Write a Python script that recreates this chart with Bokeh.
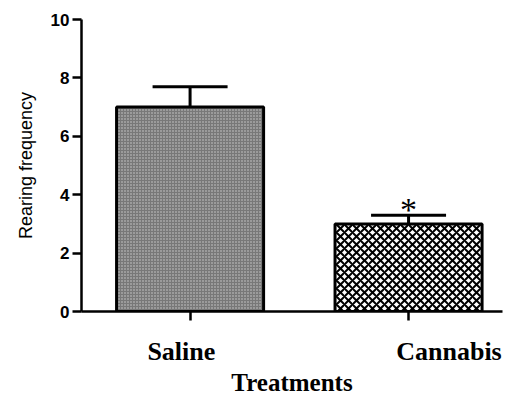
from bokeh.plotting import figure
from bokeh.models import (ColumnDataSource, FixedTicker, Whisker, TeeHead, LinearAxis)
from bokeh.core.properties import value
from bokeh.embed import file_html
from bokeh.resources import INLINE

# ---- data ----
categories = ["Saline", "Cannabis"]
positions = [1, 2]
means = [7.0, 3.0]
sems = [0.7, 0.3]
significance = ["", "*"]
y_ticks = [0, 2, 4, 6, 8, 10]
x_title = "Treatments"
y_title = "Rearing frequency"

upper = [m + s for m, s in zip(means, sems)]
src = ColumnDataSource(dict(x=positions, top=means, upper=upper, cat=categories,
                            sig=significance))

p = figure(width=512, height=398, x_range=(0.503, 2.43), y_range=(0, 10),
           output_backend="svg", toolbar_location=None,
           min_border_left=81, min_border_right=10, min_border_top=19, min_border_bottom=0)
p.background_fill_color = "white"
p.border_fill_color = "white"
p.outline_line_color = None
p.xgrid.visible = False
p.ygrid.visible = False

p.vbar(x=[positions[0]], top=[means[0]], width=0.673, bottom=0, fill_color="#787878",
       line_color="black", line_width=3, hatch_pattern="dot", hatch_scale=3,
       hatch_weight=1, hatch_color="#d0d0d0")
p.vbar(x=[positions[1]], top=[means[1]], width=0.673, bottom=0, fill_color="white",
       line_color="black", line_width=3, hatch_pattern="diagonal_cross", hatch_scale=8,
       hatch_weight=2, hatch_color="black")

wh = Whisker(base="x", lower="top", upper="upper", source=src, dimension="height",
             line_color="black", line_width=3,
             upper_head=TeeHead(size=75, line_color="black", line_width=3),
             lower_head=None, level="glyph")
p.add_layout(wh)

p.text(x="x", y="upper", text="sig", source=src, text_font=value("Liberation Serif"),
       text_font_size="34px", text_align="center", text_baseline="alphabetic",
       y_offset=-6, text_color="black")

# axes
p.yaxis.ticker = FixedTicker(ticks=y_ticks)
p.yaxis.minor_tick_line_color = None
p.yaxis.major_tick_out = 9
p.yaxis.major_tick_in = 0
p.yaxis.axis_line_width = 2.5
p.yaxis.major_tick_line_width = 2.5
p.yaxis.major_label_text_font = "Liberation Sans"
p.yaxis.major_label_text_font_style = "bold"
p.yaxis.major_label_text_font_size = "17px"
p.yaxis.major_label_text_color = "black"
p.yaxis.major_label_standoff = 3
p.yaxis.axis_label = y_title
p.yaxis.axis_label_text_font = "Liberation Sans"
p.yaxis.axis_label_text_font_style = "normal"
p.yaxis.axis_label_text_font_size = "18px"
p.yaxis.axis_label_text_color = "black"
p.yaxis.axis_label_standoff = 12

p.xaxis.ticker = FixedTicker(ticks=positions)
p.xaxis.minor_tick_line_color = None
p.xaxis.major_tick_out = 9
p.xaxis.major_tick_in = 0
p.xaxis.axis_line_width = 2.5
p.xaxis.major_tick_line_width = 2.5
p.xaxis.major_label_text_font_size = "1px"
p.xaxis.major_label_overrides = {t: "" for t in positions}
p.xaxis.major_label_standoff = 0

# category labels on a second, line-less axis (labels sit slightly off the ticks)
label_shift = [-0.04, 0.185]
label_pos = [x + d for x, d in zip(positions, label_shift)]
lab_axis = LinearAxis(ticker=FixedTicker(ticks=label_pos),
                      major_label_overrides={t: c for t, c in zip(label_pos, categories)},
                      axis_line_color=None, major_tick_line_color=None,
                      major_tick_out=0, major_tick_in=0,
                      minor_tick_line_color=None, minor_tick_out=0, minor_tick_in=0,
                      major_label_standoff=16,
                      major_label_text_font="Liberation Serif",
                      major_label_text_font_style="bold",
                      major_label_text_font_size="26px",
                      major_label_text_color="black",
                      axis_label=x_title, axis_label_standoff=0,
                      axis_label_text_font="Liberation Serif",
                      axis_label_text_font_style="bold",
                      axis_label_text_font_size="25px",
                      axis_label_text_color="black")
p.add_layout(lab_axis, "below")

open("out.html", "w").write(file_html(p, INLINE))
